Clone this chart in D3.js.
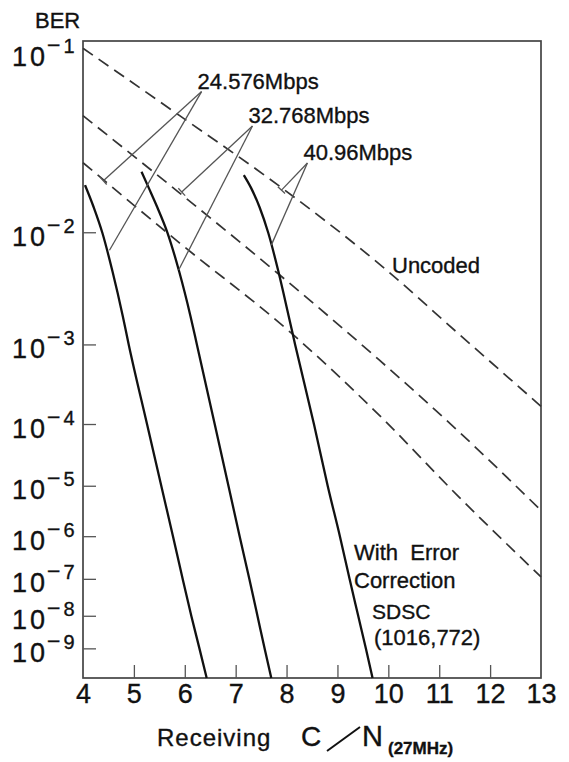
<!DOCTYPE html>
<html><head><meta charset="utf-8">
<script src="https://cdn.jsdelivr.net/npm/d3@7/dist/d3.min.js"></script>
<style>body{margin:0;background:#fff}svg{display:block}text{font-family:"Liberation Sans",Arial,sans-serif;fill:#111;stroke:#111;stroke-width:0.35px}</style>
</head><body><svg id="c" width="569" height="762"></svg>
<script>
// ---- data ----
const xTicks = [4,5,6,7,8,9,10,11,12,13];
const berExponents = [1,2,3,4,5,6,7,8,9];   // BER = 10^-n

// Uncoded (dashed) curves: C/N [dB] and BER
const unc40CN  = [4, 5.9, 7.9, 9.95, 11.39, 13];
const unc40BER = [0.094, 0.049, 0.020, 5.2e-3, 1.3e-3, 1.8e-4];
const unc32CN  = [4, 5.9, 7.86, 9.82, 11.39, 13];
const unc32BER = [0.049, 0.0185, 4.7e-3, 6.8e-4, 7.8e-5, 3.5e-6];
const unc24CN  = [4, 5.9, 8.09, 9.82, 11.39, 13];
const unc24BER = [0.028, 8.4e-3, 1.34e-3, 1.36e-4, 6.3e-6, 1.15e-7];

// With error correction SDSC(1016,772) (solid): C/N read at BER levels
const fec24CN  = [4.04, 4.21, 4.38, 4.58, 4.78, 4.90, 5.26, 5.54, 5.77, 5.96, 6.13, 6.29, 6.43];
const fec24BER = [0.0207, 1.5e-2, 1e-2, 5e-3, 2e-3, 1e-3, 1e-4, 1e-5, 1e-6, 1e-7, 1e-8, 1e-9, 1e-10];
const fec32CN  = [5.15, 5.29, 5.46, 5.66, 5.89, 6.11, 6.24, 6.59, 6.86, 7.08, 7.27, 7.43, 7.57, 7.70];
const fec32BER = [0.0249, 2e-2, 1.5e-2, 1e-2, 5e-3, 2e-3, 1e-3, 1e-4, 1e-5, 1e-6, 1e-7, 1e-8, 1e-9, 1e-10];
const fec40CN  = [7.16, 7.30, 7.47, 7.64, 7.84, 8.04, 8.17, 8.54, 8.81, 9.05, 9.24, 9.41, 9.56, 9.69];
const fec40BER = [0.0238, 2e-2, 1.5e-2, 1e-2, 5e-3, 2e-3, 1e-3, 1e-4, 1e-5, 1e-6, 1e-7, 1e-8, 1e-9, 1e-10];

// Bit-rate labels and leader targets [C/N, BER]
const rateLabels = ["24.576Mbps", "32.768Mbps", "40.96Mbps"];
const leaderApex = [[6.33, 0.063], [7.33, 0.0437], [8.41, 0.0279]];
const leaderToUncoded = [[4.40, 0.022], [5.94, 0.0188], [7.90, 0.0193]];
const leaderToCoded = [[4.52, 7.4e-3], [5.88, 5.15e-3], [7.70, 8.1e-3]];

// ---- scales ----
const svg = d3.select("#c");
const x = d3.scaleLinear().domain([4, 13]).range([83, 541]);
const yk = d3.scaleLog().domain([1, 10]).range([41, 678]);   // on -log10(BER)
const y = ber => yk(-Math.log10(ber));

const L = x(4), R = x(13), T = yk(1), B = yk(10);

// frame
svg.append("rect").attr("x", L).attr("y", T).attr("width", R - L).attr("height", B - T)
  .attr("fill", "none").attr("stroke", "#444").attr("stroke-width", 1.7);

// bottom axis
const xa = svg.append("g").attr("transform", `translate(0,${B})`)
  .call(d3.axisBottom(x).tickValues(xTicks).tickSizeInner(-13).tickSizeOuter(0).tickPadding(6).tickFormat(d3.format("d")));
xa.select(".domain").remove();
xa.selectAll(".tick line").attr("stroke", "#555").attr("stroke-width", 1.3)
  .filter(d => d === 4 || d === 13).remove();
xa.selectAll(".tick text").attr("font-size", 27).attr("fill", "#111")
  .style("font-family", "Liberation Sans, Arial, sans-serif");

// left ticks and labels
berExponents.forEach(n => {
  const ty = yk(n);
  if (n > 1) svg.append("line").attr("x1", L).attr("x2", L + 13).attr("y1", ty).attr("y2", ty)
    .attr("stroke", "#555").attr("stroke-width", 1.3);
  const ly = Math.max(ty, 53);
  const t = svg.append("text").attr("x", 12).attr("y", ly + 13).attr("font-size", 27)
    .attr("letter-spacing", 3);
  t.append("tspan").text("10");
  t.append("tspan").attr("dx", -1).attr("dy", -13).attr("font-size", 23).attr("letter-spacing", 0).text("\u2212");
  t.append("tspan").attr("dx", 3).attr("font-size", 20).attr("letter-spacing", 0).text(n);
});

svg.append("text").attr("x", 35).attr("y", 28).attr("font-size", 22).text("BER");

// curves
const line = d3.line().x(d => x(d[0])).y(d => y(d[1]));
const zip = (a, b) => a.map((v, i) => [v, b[i]]);

[[unc40CN, unc40BER], [unc32CN, unc32BER], [unc24CN, unc24BER]].forEach(([c, b]) => {
  svg.append("path").attr("d", line.curve(d3.curveMonotoneX)(zip(c, b)))
    .attr("fill", "none").attr("stroke", "#333").attr("stroke-width", 1.7)
    .attr("stroke-dasharray", "12,7");
});
[[fec24CN, fec24BER], [fec32CN, fec32BER], [fec40CN, fec40BER]].forEach(([c, b]) => {
  svg.append("path").attr("d", line.curve(d3.curveMonotoneX)(zip(c, b)))
    .attr("fill", "none").attr("stroke", "#111").attr("stroke-width", 2.3);
});

// leaders
rateLabels.forEach((lab, i) => {
  const ax = x(leaderApex[i][0]), ay = y(leaderApex[i][1]);
  const ux = x(leaderToUncoded[i][0]), uy = y(leaderToUncoded[i][1]);
  const cx = x(leaderToCoded[i][0]), cy = y(leaderToCoded[i][1]);
  const g = svg.append("g").attr("stroke", "#555").attr("stroke-width", 1.3);
  g.append("line").attr("x1", ax).attr("y1", ay).attr("x2", ux).attr("y2", uy);
  g.append("line").attr("x1", ax).attr("y1", ay).attr("x2", cx).attr("y2", cy);
  const dx = ux - ax, dy = uy - ay, len = Math.hypot(dx, dy);
  const px = -dy / len * 5, py = dx / len * 5;
  g.append("line").attr("x1", ux + px).attr("y1", uy + py).attr("x2", ux - px).attr("y2", uy - py);
  svg.append("text").attr("x", ax - 4).attr("y", ay - 3).attr("font-size", 22).text(lab);
});

// annotations
svg.append("text").attr("x", 392).attr("y", 273).attr("font-size", 22).text("Uncoded");
svg.append("text").attr("x", 354).attr("y", 560).attr("font-size", 22).style("white-space", "pre").text("With  Error");
svg.append("text").attr("x", 354).attr("y", 588).attr("font-size", 22).text("Correction");
svg.append("text").attr("x", 372).attr("y", 619).attr("font-size", 21).text("SDSC");
svg.append("text").attr("x", 374).attr("y", 645).attr("font-size", 22).text("(1016,772)");

// x title
const xt = svg.append("g");
xt.append("text").attr("x", 157).attr("y", 746).attr("font-size", 24).attr("letter-spacing", 1).text("Receiving");
xt.append("text").attr("x", 301).attr("y", 746).attr("font-size", 28).text("C");
xt.append("line").attr("x1", 327).attr("y1", 751).attr("x2", 360).attr("y2", 727)
  .attr("stroke", "#111").attr("stroke-width", 2);
xt.append("text").attr("x", 362).attr("y", 746).attr("font-size", 29).attr("textLength", 25).text("N");
xt.append("text").attr("x", 388).attr("y", 754).attr("font-size", 17).attr("font-weight", "bold").text("(27MHz)");
</script></body></html>
